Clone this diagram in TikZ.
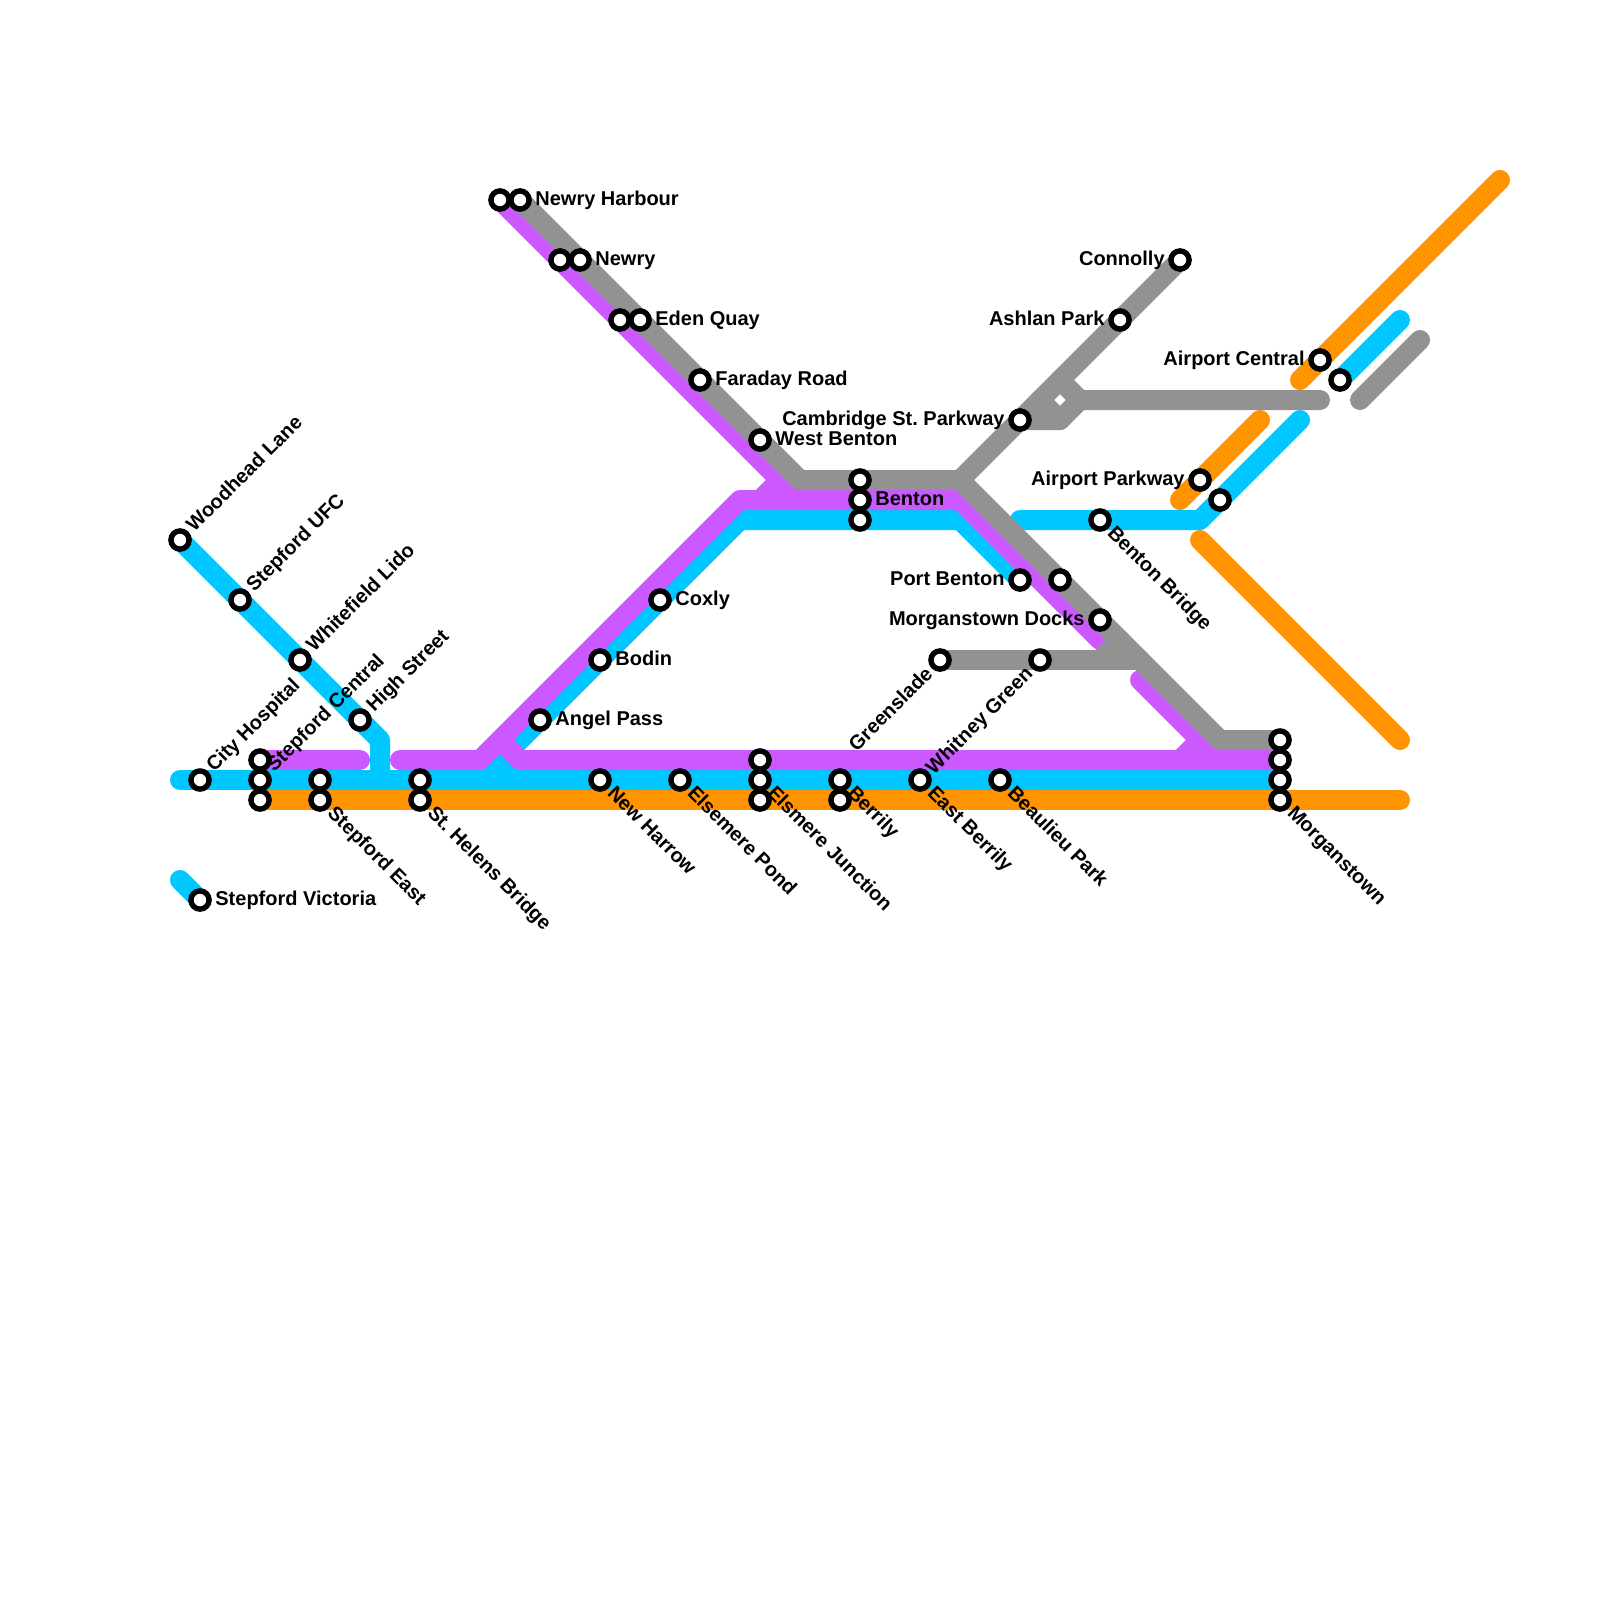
\documentclass[tikz,border=0pt]{standalone}
\usepackage{fontspec}
\setmainfont{Liberation Sans}
\frenchspacing
\definecolor{cblue}{RGB}{0,199,255}
\definecolor{cpurple}{RGB}{204,88,255}
\definecolor{cgrey}{RGB}{146,146,146}
\definecolor{corange}{RGB}{255,148,0}
\tikzset{
  metro/.style={line width=10pt,line cap=round,line join=round},
  blueline/.style={metro,draw=cblue},
  purpleline/.style={metro,draw=cpurple},
  greyline/.style={metro,draw=cgrey},
  orangeline/.style={metro,draw=corange},
  stn/.style={circle,draw=black,fill=white,line width=2.7pt,outer sep=0pt,minimum size=9.1pt,inner sep=0pt},
  lab/.style={inner sep=0pt,font=\fontsize{10pt}{10pt}\selectfont\bfseries,text height=7.2pt,text depth=0pt,text=black},
  labR/.style={lab,anchor=west,xshift=7.5pt,yshift=0.7pt},
  labL/.style={lab,anchor=east,xshift=-7.5pt,yshift=0.7pt},
  labUp/.style={lab,anchor=west,rotate=45,xshift=7.4pt,yshift=1pt},
  labDown/.style={lab,anchor=west,rotate=-45,xshift=7.1pt,yshift=0.9pt},
  labDL/.style={lab,anchor=east,rotate=45,xshift=-7.4pt,yshift=0.4pt},
}
\begin{document}
\begin{tikzpicture}[x=0.5pt,y=-0.5pt]
\path[use as bounding box,fill=white] (0,0) rectangle (1600,1600);
% station positions
\coordinate (woodhead) at (180,540);
\coordinate (ufc) at (240,600);
\coordinate (lido) at (300,660);
\coordinate (high) at (360,720);
\coordinate (city) at (200,780);
\coordinate (centralP) at (260,760);
\coordinate (centralB) at (260,780);
\coordinate (centralO) at (260,800);
\coordinate (eastB) at (320,780);
\coordinate (eastO) at (320,800);
\coordinate (helensB) at (420,780);
\coordinate (helensO) at (420,800);
\coordinate (harrow) at (600,780);
\coordinate (pond) at (680,780);
\coordinate (junctP) at (760,760);
\coordinate (junctB) at (760,780);
\coordinate (junctO) at (760,800);
\coordinate (berrilyB) at (840,780);
\coordinate (berrilyO) at (840,800);
\coordinate (eberrily) at (920,780);
\coordinate (beaulieu) at (1000,780);
\coordinate (morgG) at (1280,740);
\coordinate (morgP) at (1280,760);
\coordinate (morgB) at (1280,780);
\coordinate (morgO) at (1280,800);
\coordinate (victoria) at (200,900);
\coordinate (harbourP) at (500,200);
\coordinate (harbourG) at (520,200);
\coordinate (newryP) at (560,260);
\coordinate (newryG) at (580,260);
\coordinate (edenP) at (620,320);
\coordinate (edenG) at (640,320);
\coordinate (faraday) at (700,380);
\coordinate (wbenton) at (760,440);
\coordinate (bentonG) at (860,480);
\coordinate (bentonP) at (860,500);
\coordinate (bentonB) at (860,520);
\coordinate (coxly) at (660,600);
\coordinate (bodin) at (600,660);
\coordinate (angel) at (540,720);
\coordinate (connolly) at (1180,260);
\coordinate (ashlan) at (1120,320);
\coordinate (cambridge) at (1020,420);
\coordinate (portb) at (1020,580);
\coordinate (unnamed) at (1060,580);
\coordinate (docks) at (1100,620);
\coordinate (greenslade) at (940,660);
\coordinate (whitney) at (1040,660);
\coordinate (bbridge) at (1100,520);
\coordinate (parkwayO) at (1200,480);
\coordinate (parkwayB) at (1220,500);
\coordinate (acentralO) at (1320,360);
\coordinate (acentralB) at (1340,380);
% orange
\draw[orangeline] (centralO) -- (1400,800);
\draw[orangeline] (1180,500) -- (1260,420);
\draw[orangeline] (1300,380) -- (1500,180);
\draw[orangeline] (1200,540) -- (1400,740);
% blue
\draw[blueline] (woodhead) -- (high) -- (380,740) -- (380,780);
\draw[blueline] (180,780) -- (morgB);
\draw[blueline] (480,780) -- (500,760) -- (520,780);
\draw[blueline] (500,760) -- (740,520) -- (960,520) -- (portb);
\draw[blueline] (1020,520) -- (1200,520) -- (1300,420);
\draw[blueline] (acentralB) -- (1400,320);
\draw[blueline] (180,880) -- (victoria);
% purple
\draw[purpleline] (centralP) -- (360,760);
\draw[purpleline] (400,760) -- (480,760) -- (740,500) -- (960,500) -- (1100,640);
\draw[purpleline] (500,740) -- (520,760) -- (morgP);
\draw[purpleline] (harbourP) -- (800,500);
\draw[purpleline] (760,500) -- (780,480);
\draw[purpleline] (1140,680) -- (1220,760);
\draw[purpleline] (1180,760) -- (1200,740);
% grey
\draw[greyline] (harbourG) -- (800,480) -- (960,480) -- (connolly);
\draw[greyline] (960,480) -- (1220,740) -- (morgG);
\draw[greyline] (greenslade) -- (1140,660);
\draw[greyline] (1120,640) -- (1100,660);
\draw[greyline] (cambridge) -- (1060,420) -- (1080,400) -- (1320,400);
\draw[greyline] (1060,380) -- (1080,400);
\draw[greyline] (1040,400) -- (1060,420);
\draw[greyline] (1360,400) -- (1420,340);
% stations
\foreach \s in {woodhead,ufc,lido,high,city,centralP,centralB,centralO,eastB,eastO,helensB,helensO,harrow,pond,junctP,junctB,junctO,berrilyB,berrilyO,eberrily,beaulieu,morgG,morgP,morgB,morgO,victoria,harbourP,harbourG,newryP,newryG,edenP,edenG,faraday,wbenton,bentonG,bentonP,bentonB,coxly,bodin,angel,connolly,ashlan,cambridge,portb,unnamed,docks,greenslade,whitney,bbridge,parkwayO,parkwayB,acentralO,acentralB}
  \node[stn] (st-\s) at (\s) {};
% labels
\node[labUp] (l1) at (woodhead) {Woodhead Lane};
\node[labUp] (l2) at (ufc) {Stepford UFC};
\node[labUp] (l3) at (lido) {Whitefield Lido};
\node[labUp] (l4) at (high) {High Street};
\node[labUp] (l5) at (city) {City Hospital};
\node[labUp] (l6) at (centralB) {Stepford Central};
\node[labDown] (l7) at (eastO) {Stepford East};
\node[labDown] (l8) at (helensO) {St. Helens Bridge};
\node[labDown] (l9) at (harrow) {New Harrow};
\node[labDown] (l10) at (pond) {Elsemere Pond};
\node[labDown] (l11) at (junctB) {Elsmere Junction};
\node[labDown] (l12) at (berrilyB) {Berrily};
\node[labDown] (l13) at (eberrily) {East Berrily};
\node[labDown] (l14) at (beaulieu) {Beaulieu Park};
\node[labDown] (l15) at (morgO) {Morganstown};
\node[labDown] (l16) at (bbridge) {Benton Bridge};
\node[labR] (l17) at (victoria) {Stepford Victoria};
\node[labR] (l18) at (harbourG) {Newry Harbour};
\node[labR] (l19) at (newryG) {Newry};
\node[labR] (l20) at (edenG) {Eden Quay};
\node[labR] (l21) at (faraday) {Faraday Road};
\node[labR] (l22) at (wbenton) {West Benton};
\node[labR] (l23) at (bentonP) {Benton};
\node[labR] (l24) at (coxly) {Coxly};
\node[labR] (l25) at (bodin) {Bodin};
\node[labR] (l26) at (angel) {Angel Pass};
\node[labL] (l27) at (connolly) {Connolly};
\node[labL] (l28) at (ashlan) {Ashlan Park};
\node[labL] (l29) at (cambridge) {Cambridge St. Parkway};
\node[labL] (l30) at (acentralO) {Airport Central};
\node[labL] (l31) at (parkwayO) {Airport Parkway};
\node[labL] (l32) at (portb) {Port Benton};
\node[labL] (l33) at (docks) {Morganstown Docks};
\node[labDL] (l34) at (greenslade) {Greenslade};
\node[labDL] (l35) at (whitney) {Whitney Green};
\end{tikzpicture}
\end{document}
